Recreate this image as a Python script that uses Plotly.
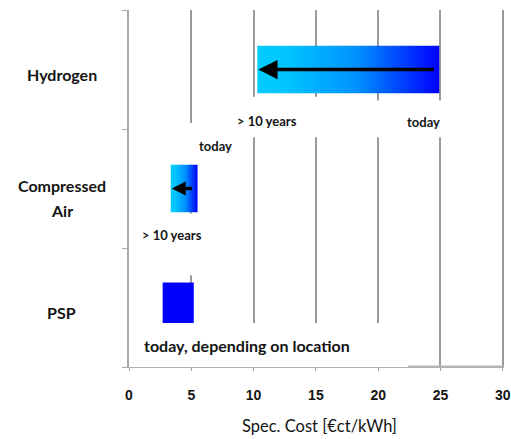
import plotly.graph_objects as go

# Storage technologies, bottom to top
technologies = ["PSP", "Compressed Air", "Hydrogen"]
category_labels = ["PSP", "Compressed<br>Air", "Hydrogen"]
cost_low = [2.7, 3.35, 10.3]     # ct/kWh, lower end of range
cost_high = [5.2, 5.5, 24.9]     # ct/kWh, upper end of range
has_outlook = [False, True, True]
x_ticks = [0, 5, 10, 15, 20, 25, 30]
axis_title = "Spec. Cost [€ct/kWh]"
label_today = "today"
label_future = "> 10 years"
label_psp = "today, depending on location"

TEXT_FONT = "Lato, 'Open Sans', sans-serif"
TICK_FONT = "'Liberation Sans Narrow', 'Arial Narrow', 'Liberation Sans', sans-serif"
GRID = "#9a9a9a"
INK = "#141414"
X_MAX = 30.1
gradient = [[0.0, "#00CCFF"], [0.15, "#00C6FF"], [0.55, "#0090FF"], [1.0, "#0000FF"]]

fig = go.Figure()

# half-heights and offsets of the bars inside each band
half_h = {"PSP": 0.17, "Compressed Air": 0.2, "Hydrogen": 0.2}
offset = {"PSP": 0.04, "Compressed Air": 0.0, "Hydrogen": 0.0}
head_size = {"Compressed Air": 0.8, "Hydrogen": 1.1}

for i, name in enumerate(technologies):
    yc = i + 0.5 + offset[name]
    h = half_h[name]
    lo, hi = cost_low[i], cost_high[i]
    xs = [lo, hi, hi, lo, lo]
    ys = [yc - h, yc - h, yc + h, yc + h, yc - h]
    if has_outlook[i]:
        fig.add_trace(go.Scatter(
            x=xs, y=ys, mode="lines", fill="toself",
            line=dict(width=0, color="rgba(0,0,0,0)"),
            fillgradient=dict(type="horizontal", colorscale=gradient),
            hoverinfo="skip", showlegend=False,
        ))
        # cost reduction arrow: today -> in more than 10 years
        fig.add_annotation(
            x=lo, y=yc, ax=hi, ay=yc, xref="x", yref="y", axref="x", ayref="y",
            showarrow=True, arrowhead=2, arrowsize=head_size[name], arrowwidth=3.5,
            arrowcolor="black", standoff=1, startstandoff=4, text="",
        )
    else:
        fig.add_trace(go.Scatter(
            x=xs, y=ys, mode="lines", fill="toself",
            line=dict(width=0, color="rgba(0,0,0,0)"), fillcolor="#0000FF",
            hoverinfo="skip", showlegend=False,
        ))

# white label backgrounds interrupting the gridlines
white_boxes = [
    (6.1, 16.1, 1.93, 2.27),
    (19.3, 27.3, 1.93, 2.24),
    (4.1, 9.7, 1.70, 2.05),
    (0.3, 7.9, 0.77, 1.29),
    (0.0, 22.4, -0.02, 0.37),
]
for x0, x1, y0, y1 in white_boxes:
    fig.add_shape(type="rect", x0=x0, x1=x1, y0=y0, y1=y1, xref="x", yref="y",
                  fillcolor="white", line=dict(width=0), layer="between")

# gridline at the last tick, on the right edge of the plot
fig.add_shape(type="line", x0=x_ticks[-1], x1=x_ticks[-1], y0=0, y1=3, xref="x", yref="y",
              line=dict(color=GRID, width=1.5), layer="between")
# heavier bottom axis segment to the right of the PSP label box
fig.add_shape(type="line", x0=22.4, x1=X_MAX, y0=0, y1=0, xref="x", yref="y",
              line=dict(color="#b8b8b8", width=3), layer="above")

lab_font = dict(family=TEXT_FONT, size=13, color=INK, weight="bold")

# Hydrogen labels
fig.add_annotation(x=cost_low[2], y=2, xref="x", yref="y", text=label_future,
                   showarrow=False, xshift=10, yshift=8, font=lab_font)
fig.add_annotation(x=cost_high[2], y=2, xref="x", yref="y", text=label_today,
                   showarrow=False, xshift=-16, yshift=7, font=lab_font)
# Compressed air labels
fig.add_annotation(x=cost_high[1], y=2, xref="x", yref="y", text=label_today,
                   showarrow=False, xshift=18, yshift=-17, font=lab_font)
fig.add_annotation(x=cost_low[1], y=1, xref="x", yref="y", text=label_future,
                   showarrow=False, xshift=1, yshift=13, font=lab_font)
# PSP label
fig.add_annotation(x=0, y=0, xref="x", yref="y", text=label_psp, showarrow=False,
                   xanchor="left", xshift=13, yshift=22,
                   font=dict(family=TEXT_FONT, size=16, color=INK, weight="bold"))

# category names left of the axis, one annotation per text line
LINE_GAP = 25
for i, lab in enumerate(category_labels):
    lines = lab.split("<br>")
    n = len(lines)
    for k, line in enumerate(lines):
        shift = -5 + ((n - 1) / 2 - k) * LINE_GAP - (n - 1) * 4
        fig.add_annotation(x=-0.18, y=i + 0.5, xref="paper", yref="y", text=line,
                           showarrow=False, xanchor="center", yshift=shift,
                           font=dict(family=TEXT_FONT, size=16, color=INK, weight="bold"))

# axis title
fig.add_annotation(x=0.508, y=-0.165, xref="paper", yref="paper", text=axis_title,
                   showarrow=False, xanchor="center", yanchor="middle",
                   font=dict(family=TEXT_FONT, size=16.5, color=INK))

fig.update_layout(
    width=511, height=439,
    margin=dict(l=129, r=7, t=10, b=72),
    paper_bgcolor="white", plot_bgcolor="white",
    showlegend=False,
    xaxis=dict(
        range=[0, X_MAX], tickvals=x_ticks, ticktext=[str(v) for v in x_ticks],
        showgrid=True, gridcolor=GRID, gridwidth=1.5, zeroline=False,
        showline=True, linecolor="#b0b0b0", linewidth=1,
        ticks="outside", ticklen=3, tickcolor="#a0a0a0", tickwidth=1,
        ticklabelstandoff=12, automargin=False, ticklabeloverflow="allow",
        tickfont=dict(family=TICK_FONT, size=14, color=INK, weight="bold"),
        fixedrange=True,
    ),
    yaxis=dict(
        range=[0, 3], tickvals=[0, 1, 2, 3], showticklabels=False,
        showgrid=False, zeroline=False, automargin=False,
        showline=True, linecolor="#a8a8a8", linewidth=1.5,
        ticks="outside", ticklen=5, tickcolor="#a8a8a8", tickwidth=1,
        fixedrange=True,
    ),
)

fig.write_html("out.html")
